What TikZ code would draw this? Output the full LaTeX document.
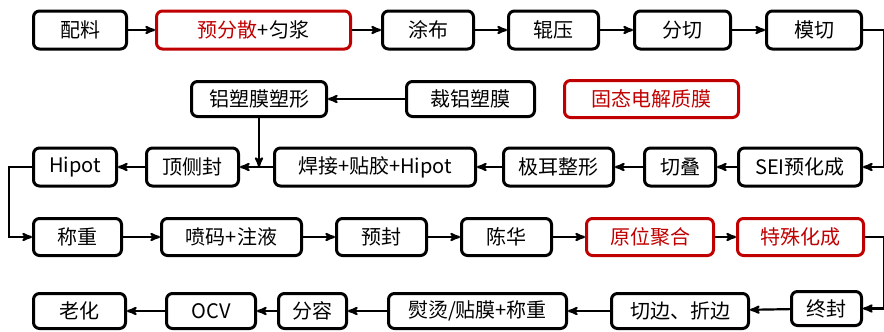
\documentclass[tikz,border=0pt]{standalone}
\usepackage{fontspec}
\setmainfont{Noto Sans CJK SC}
\usetikzlibrary{arrows,positioning}
\definecolor{redc}{RGB}{192,0,0}

\begin{document}
\begin{tikzpicture}[
		x=1pt,y=-1pt,
		stepbox/.style={draw,rounded corners=6pt,line width=3pt,minimum height=38pt,inner sep=0pt,font=\fontsize{20}{23}\selectfont},
		redbox/.style={stepbox,draw=redc,text=redc},
		> = stealth',
		flow/.style={->,line width=2.2pt}
		]
		\useasboundingbox (0,0) rectangle (884,332);
		% row 1
		\node[stepbox,minimum width=93pt] (peiliao) at (80,30) {配料};
		\node[stepbox,draw=redc,minimum width=194pt] (yufensan) at (253.5,30) {\textcolor{redc}{预分散}+匀浆};
		\node[stepbox,minimum width=91pt] (tubu) at (428,30) {涂布};
		\node[stepbox,minimum width=90pt] (gunya) at (553.5,30) {辊压};
		\node[stepbox,minimum width=96pt] (fenqie) at (682.5,30) {分切};
		\node[stepbox,minimum width=95pt] (moqie) at (814,30) {模切};
		% films
		\node[stepbox,minimum width=135pt,minimum height=35pt] (lvsuxing) at (259,99) {铝塑膜塑形};
		\node[stepbox,minimum width=128pt,minimum height=35pt] (cailvsu) at (470.5,99) {裁铝塑膜};
		\node[redbox,minimum width=174pt,minimum height=37pt] (guti) at (651.5,99) {固态电解质膜};
		% row 2
		\node[stepbox,minimum width=83pt] (hipot) at (75,167) {Hipot};
		\node[stepbox,minimum width=92pt] (dingce) at (192.5,167) {顶侧封};
		\node[stepbox,minimum width=201pt] (hanjie) at (375,167) {焊接+贴胶+Hipot};
		\node[stepbox,minimum width=110pt] (jier) at (558.5,167) {极耳整形};
		\node[stepbox,minimum width=71pt] (qiedie) at (680,167) {切叠};
		\node[stepbox,minimum width=123pt] (sei) at (800,167) {SEI预化成};
		% row 3
		\node[stepbox,minimum width=88pt,minimum height=37pt] (chengzhong) at (77.5,237) {称重};
		\node[stepbox,minimum width=140pt,minimum height=37pt] (penma) at (231.5,237) {喷码+注液};
		\node[stepbox,minimum width=90pt,minimum height=37pt] (yufeng) at (381.5,237) {预封};
		\node[stepbox,minimum width=90pt,minimum height=37pt] (chenhua) at (506.5,237) {陈华};
		\node[redbox,minimum width=127pt,minimum height=37pt] (yuanwei) at (650,237) {原位聚合};
		\node[redbox,minimum width=126pt,minimum height=37pt] (teshu) at (800.5,237) {特殊化成};
		% row 4
		\node[stepbox,minimum width=92pt,minimum height=35pt] (laohua) at (79.5,311) {老化};
		\node[stepbox,minimum width=89pt,minimum height=35pt] (ocv) at (211,311) {OCV};
		\node[stepbox,minimum width=68pt,minimum height=35pt] (fenrong) at (312.5,311) {分容};
		\node[stepbox,minimum width=178pt,minimum height=35pt] (yuntang) at (477.5,311) {熨烫/贴膜+称重};
		\node[stepbox,minimum width=137pt,minimum height=35pt] (qiebian) at (680,311) {切边、折边};
		\node[stepbox,minimum width=70pt,minimum height=34pt] (zhongfeng) at (826.5,308.5) {终封};
		
		% connectors
		\draw[flow] (peiliao) -- (yufensan);
		\draw[flow] (yufensan) -- (tubu);
		\draw[flow] (tubu) -- (gunya);
		\draw[flow] (gunya) -- (fenqie);
		\draw[flow] (fenqie) -- (moqie);
		\draw[flow] (moqie.east) -- (884,30) |- (sei.east);
		\draw[flow] (sei) -- (qiedie);
		\draw[flow] (qiedie) -- (jier);
		\draw[flow] (jier) -- (hanjie);
		\draw[flow] (hanjie) -- (dingce);
		\draw[flow] (dingce) -- (hipot);
		\draw[flow] (cailvsu) -- (lvsuxing);
		\coordinate (join) at (lvsuxing.south |- hanjie.west);
		\draw[flow] (lvsuxing) -- (join);
		\draw[flow] (hipot.west) -- (9,167) |- (chengzhong.west);
		\draw[flow] (chengzhong) -- (penma);
		\draw[flow] (penma) -- (yufeng);
		\draw[flow] (yufeng) -- (chenhua);
		\draw[flow] (chenhua) -- (yuanwei);
		\draw[flow] (yuanwei) -- (teshu);
		\draw[flow] (teshu.east) -- (884,237) |- (zhongfeng.east);
		\draw[flow] (zhongfeng) -- (qiebian);
		\draw[flow] (qiebian) -- (yuntang);
		\draw[flow] (yuntang) -- (fenrong);
		\draw[flow] (fenrong) -- (ocv);
		\draw[flow] (ocv) -- (laohua);
	\end{tikzpicture}
\end{document}
